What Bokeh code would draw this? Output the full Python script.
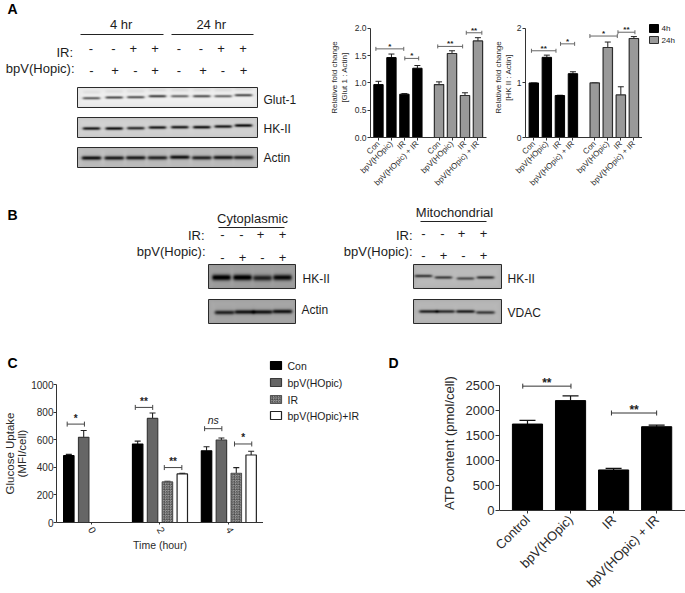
import math
import numpy as np
from bokeh.core.properties import value
from bokeh.embed import file_html
from bokeh.layouts import column, row
from bokeh.models import (ColumnDataSource, FixedTicker, Label, LinearColorMapper,
                          PrintfTickFormatter, Range1d, TeeHead, Whisker)
from bokeh.plotting import figure
from bokeh.resources import INLINE

FONT = "Liberation Sans"

# ---------- Panel A bar charts ----------
treatments = ["Con", "bpV(HOpic)", "IR", "bpV(HOpic) + IR"]
positions_a = [1, 2, 3, 4, 5.67, 6.67, 7.67, 8.67]
glut_values = [0.97, 1.465, 0.794, 1.27, 0.97, 1.54, 0.77, 1.77]
glut_upper = [1.03, 1.53, 0.805, 1.32, 1.02, 1.59, 0.82, 1.83]
glut_brackets = [(0.8, 2.95, 1.625, "*"), (3.03, 4.1, 1.45, "*"), (5.57, 7.49, 1.67, "**"), (7.77, 8.97, 1.92, "**")]
hk_values = [1.0, 1.47, 0.77, 1.17, 1.0, 1.65, 0.78, 1.815]
hk_upper = [1.0, 1.51, 0.775, 1.205, 1.0, 1.75, 0.93, 1.85]
hk_brackets = [(0.82, 2.7, 1.59, "**"), (3.05, 4.13, 1.717, "*"), (5.3, 7.4, 1.86, "*"), (7.45, 8.75, 1.93, "**")]
legend_a = ["4h", "24h"]

# ---------- Panel C ----------
positions_c = [1, 2, 5.63, 6.63, 7.63, 8.63, 10.26, 11.26, 12.26, 13.26]
groups_c = ["Con", "bpV", "Con", "bpV", "IR", "both", "Con", "bpV", "IR", "both"]
uptake_values = [484, 617, 569, 754, 294, 352, 520, 598, 357, 489]
uptake_upper = [494, 667, 590, 793, 299, 357, 549, 612, 398, 516]
uptake_ticks = [2.5, 7.13, 11.76]
uptake_tick_labels = ["0", "2", "4"]
uptake_brackets = [(0.89, 2.05, 713, "*"), (5.47, 6.64, 834, "**"), (7.42, 8.6, 398, "**"),
                   (10.13, 11.29, 680, "ns"), (12.14, 13.3, 569, "*")]

# ---------- Panel D ----------
atp_labels = ["Control", "bpV(HOpic)", "IR", "bpV(HOpic) + IR"]
atp_values = [1729, 2198, 811, 1676]
atp_upper = [1803, 2292, 844, 1709]
atp_brackets = [(0.89, 2.01, 2487, "**"), (2.95, 4.0, 1950, "**")]

# ---------- Blots: centre x, centre y, darkness per lane ----------
lanes_a = [91, 113.7, 135.3, 157, 179.3, 201.3, 222.7, 243]
glut_y = [97.7, 97, 96.7, 95.7, 95.7, 95.7, 95.7, 94.7]
glut_d = [150, 170, 160, 180, 140, 165, 140, 170]
hkii_y = [128, 128, 127.7, 127, 126.7, 126.7, 126, 125]
hkii_d = [190, 200, 170, 190, 190, 200, 190, 205]
actin_y = [157.5, 157.5, 157.3, 157.3, 156.7, 157.3, 157, 157]
actin_d = [170, 160, 160, 150, 170, 150, 160, 145]
lanes_cyt = [221, 242, 262, 282]
lanes_cyt_actin = [224, 244, 262, 282]
cyt_hk_d = [170, 170, 125, 150]
cyt_actin_d = [130, 145, 145, 145]
lanes_mito = [423, 443, 465, 485]
lanes_mito_vdac = [428, 445, 465, 485]
mito_hk_d = [130, 125, 110, 135]
vdac_d = [150, 140, 155, 125]
ir_signs = ["-", "-", "+", "+"]
bpv_signs = ["-", "+", "-", "+"]


def text(p, xs, ys, texts, size, H, color="#1c1c1c", align="left", baseline="middle", style="normal", angle=0):
    p.text(x=xs, y=[H - y for y in ys], text=texts, text_font=value(FONT), text_font_size=f"{size}px",
           text_color=color, text_align=align, text_baseline=baseline, text_font_style=style, angle=angle)


def blot(p, H, x0, x1, y0, y1, bg, lanes, ys, darks, half, sigma, halo=0.0, ghost=None):
    w, h = int(x1 - x0), int(y1 - y0)
    xx, yy = np.meshgrid(np.arange(w) + x0 + 0.5, np.arange(h) + y0 + 0.5)
    img = np.full((h, w), float(bg))
    edge = np.minimum.reduce([xx - x0, x1 - xx, yy - y0, y1 - yy])
    img -= 14 * np.exp(-edge / 3.0)
    for cx, cy, d in zip(lanes, ys, darks):
        hx = 0.5 * (np.tanh((xx - cx + half) / 1.6) - np.tanh((xx - cx - half) / 1.6))
        img -= d * hx * np.exp(-((yy - cy) ** 2) / (2 * sigma ** 2))
        if halo:
            img -= halo * hx * np.exp(-((yy - cy) ** 2) / (2 * (3.2 * sigma) ** 2))
        if ghost:
            img -= ghost * hx * np.exp(-((yy - cy + 6) ** 2) / 3.0)
    img = np.clip(img, 0, 255)[::-1]
    mapper = LinearColorMapper(palette=["#%02x%02x%02x" % (i, i, i) for i in range(256)], low=0, high=255)
    p.image(image=[img], x=x0, y=H - y1, dw=w, dh=h, color_mapper=mapper)
    p.quad(left=x0, right=x1, top=H - y0, bottom=H - y1, fill_color=None, line_color="#2a2a2a", line_width=1)


def canvas(W, H):
    p = figure(width=W, height=H, x_range=Range1d(0, W), y_range=Range1d(0, H), output_backend="svg",
               toolbar_location=None, min_border=0, outline_line_color=None, frame_align=False)
    p.axis.visible = False
    p.grid.visible = False
    return p


def chart(W, H, L, R, T, B, xr, yr):
    p = figure(width=W, height=H, x_range=Range1d(*xr), y_range=Range1d(*yr), output_backend="svg",
               toolbar_location=None, min_border_left=L, min_border_right=R, min_border_top=T, min_border_bottom=B,
               outline_line_color=None, frame_align=False)
    p.grid.visible = False
    for ax in (p.xaxis[0], p.yaxis[0]):
        ax.minor_tick_line_color = None
        ax.major_tick_in = 0
        ax.axis_line_color = "#333333"
        ax.major_tick_line_color = "#333333"
        ax.major_label_text_font = FONT
        ax.axis_label_text_font = FONT
        ax.axis_label_text_font_style = "normal"
        ax.axis_label_text_color = "#2a2a2a"
        ax.major_label_text_color = "#2a2a2a"
        ax.axis_label_text_line_height = 1.1
    return p


def whiskers(p, xs, lows, ups, cap, color="black", width=1.0):
    src = ColumnDataSource(dict(x=xs, lo=lows, up=ups))
    p.add_layout(Whisker(source=src, base="x", lower="lo", upper="up", dimension="height", line_color=color,
                         line_width=width, lower_head=None,
                         upper_head=TeeHead(size=cap, line_color=color, line_width=width)))


def brackets(p, items, cap, color, size, dy, ns_size=None):
    for x0, x1, y, lab in items:
        src = ColumnDataSource(dict(y=[y], a=[x0], b=[x1]))
        p.add_layout(Whisker(source=src, base="y", lower="a", upper="b", dimension="width", line_color=color,
                             line_width=1, lower_head=TeeHead(size=cap, line_color=color, line_width=1),
                             upper_head=TeeHead(size=cap, line_color=color, line_width=1)))
        if lab == "ns":
            p.add_layout(Label(x=(x0 + x1) / 2, y=y, text=lab, text_font=FONT, text_font_size=f"{ns_size}px",
                               text_font_style="italic", text_align="center", text_baseline="bottom", y_offset=3,
                               text_color="#222222"))
        else:
            p.add_layout(Label(x=(x0 + x1) / 2, y=y, text=lab, text_font=FONT, text_font_size=f"{size}px",
                               text_font_style="bold", text_align="center", text_baseline="middle", y_offset=dy,
                               text_color="#222222"))


# ---------- Row 1 ----------
H1 = 200
pa = canvas(325, H1)
text(pa, [7], [8], ["A"], 14, H1, style="bold", color="black")
text(pa, [120.7, 210.7], [24, 24], ["4 hr", "24 hr"], 13, H1, align="center")
pa.segment(x0=[80, 171], x1=[163, 253], y0=[H1 - 34] * 2, y1=[H1 - 34] * 2, line_color="#222222", line_width=1)
text(pa, [72.5], [51.5], ["IR:"], 13, H1, align="right")
text(pa, [74], [68], ["bpV(Hopic):"], 13, H1, align="right")
ir_x = [90.5, 113, 132.7, 154.5, 178.5, 200.5, 220.5, 242.5]
bpv_x = [91, 114.5, 135, 154.5, 178.5, 202.5, 222.5, 243]
text(pa, ir_x, [48] * 8, ir_signs * 2, 13, H1, align="center")
text(pa, bpv_x, [70] * 8, bpv_signs * 2, 13, H1, align="center")
blot(pa, H1, 77, 257, 87, 107, 240, lanes_a, glut_y, glut_d, 8.5, 0.9, 0, 14)
blot(pa, H1, 77, 257, 117, 137, 212, lanes_a, hkii_y, hkii_d, 8.5, 1.0, 5)
blot(pa, H1, 77, 257, 147, 167, 196, lanes_a, actin_y, actin_d, 9.5, 1.3, 16)
text(pa, [263, 263, 263], [99, 128, 157.5], ["Glut-1", "HK-II", "Actin"], 12, H1)


def panel_a_chart(W, L, R, xr, vals, ups, brs, yticks, ylabel, fmt, title_gap):
    p = chart(W, H1, L, R, 17, 63, xr, (0, 2.2))
    p.vbar(x=positions_a[:4], top=vals[:4], width=0.72, bottom=0, fill_color="black", line_color="black", line_width=1)
    p.vbar(x=positions_a[4:], top=vals[4:], width=0.72, bottom=0, fill_color="#999999", line_color="#2e2e2e", line_width=1.2)
    whiskers(p, positions_a, vals, ups, 6, "#222222")
    brackets(p, brs, 4, "#666666", 8, 2.5)
    p.xaxis[0].ticker = FixedTicker(ticks=positions_a)
    p.xaxis[0].major_label_overrides = {x: t for x, t in zip(positions_a, treatments * 2)}
    p.xaxis[0].major_label_orientation = math.pi / 4
    p.xaxis[0].major_label_text_font_size = "8px"
    p.xaxis[0].major_tick_out = 3
    p.xaxis[0].major_label_standoff = 2
    p.yaxis[0].ticker = FixedTicker(ticks=yticks)
    p.yaxis[0].bounds = (0, 2)
    if fmt:
        p.yaxis[0].formatter = PrintfTickFormatter(format=fmt)
    p.yaxis[0].major_label_text_font_size = "8.5px"
    p.yaxis[0].major_tick_out = 3
    p.yaxis[0].major_label_standoff = 1
    p.yaxis[0].axis_label = ylabel
    p.yaxis[0].axis_label_text_font_size = "8px"
    p.yaxis[0].axis_label_standoff = title_gap
    return p


p1 = panel_a_chart(165, 45, 4, (0.385, 9.33), glut_values, glut_upper, glut_brackets,
                   [0, 0.5, 1.0, 1.5, 2.0], "Relative fold change\n[Glut 1 : Actin]", "%.1f", 3)
p2 = panel_a_chart(152, 35, 0, (0.365, 9.33), hk_values, hk_upper, hk_brackets,
                   [0, 1, 2], "Relative fold change\n[HK II : Actin]", None, 1)
# key of panel A: page x 642..685
pk = canvas(43, H1)
pk.quad(left=[7, 7], right=[16, 16], top=[H1 - 24, H1 - 36], bottom=[H1 - 32, H1 - 43],
        fill_color=["black", "#999999"], line_color=["black", "#2e2e2e"], line_width=1)
text(pk, [19, 19], [28, 39.5], legend_a, 8, H1)

# ---------- Row 2 ----------
H2 = 140
OFF = 200
pb = canvas(685, H2)
def yb(v):
    return [H2 - (y - OFF) for y in v]
def tb(xs, ys, labels, size, **kw):
    text(pb, xs, [y - OFF for y in ys], labels, size, H2, **kw)
tb([7], [214], ["B"], 14, style="bold", color="black")
tb([252, 454], [218, 212], ["Cytoplasmic", "Mitochondrial"], 13, align="center")
pb.segment(x0=[218, 420], x1=[284, 486], y0=yb([227, 221]), y1=yb([227, 221]), line_color="#222222", line_width=1)
tb([204, 412], [235, 235], ["IR:", "IR:"], 13, align="right")
tb([205, 412], [251, 251], ["bpV(Hopic):", "bpV(Hopic):"], 13, align="right")
tb([222, 241, 260, 282], [234] * 4, ir_signs, 13, align="center")
tb([222, 242, 262, 282], [257] * 4, bpv_signs, 13, align="center")
tb([423, 442, 461, 483], [233] * 4, ir_signs, 13, align="center")
tb([423, 443, 463, 483], [255] * 4, bpv_signs, 13, align="center")
def shift(v):
    return [y - OFF for y in v]
blot(pb, H2, 208, 295, 264 - OFF, 288 - OFF, 165, lanes_cyt, shift([277, 277, 277.5, 277]), cyt_hk_d, 9, 2.0, 10)
blot(pb, H2, 208, 295, 299 - OFF, 323 - OFF, 172, lanes_cyt_actin, shift([312, 311.5, 311.5, 311]), cyt_actin_d, 9.5, 1.4, 12)
blot(pb, H2, 413, 501, 264 - OFF, 288 - OFF, 188, lanes_mito, shift([275.5, 277, 278, 277]), mito_hk_d, 8.5, 1.0, 5)
blot(pb, H2, 413, 501, 299 - OFF, 323 - OFF, 186, lanes_mito_vdac, shift([311, 311, 311, 312]), vdac_d, 9, 1.1, 6)
tb([302, 301, 507, 507], [278, 309, 278, 312], ["HK-II", "Actin", "HK-II", "VDAC"], 12)

# ---------- Row 3 ----------
H3 = 260
HEAD = 30
ph = canvas(263, HEAD)
text(ph, [7], [22], ["C"], 14, HEAD, style="bold", color="black")
pc = chart(263, H3 - HEAD, 56, 0, 14, 78, (0.172, 14.09), (0, 1000))
fills = {"Con": "black", "bpV": "#666666", "IR": "#aaaaaa", "both": "white"}
lines = {"Con": "black", "bpV": "#3a3a3a", "IR": "#555555", "both": "#222222"}
names = {"Con": "Con", "bpV": "bpV(HOpic)", "IR": "IR", "both": "bpV(HOpic)+IR"}
order = ["Con", "bpV", "IR", "both"]
hatch = dict(hatch_pattern="criss_cross", hatch_color="#444444", hatch_scale=2.5, hatch_weight=0.6)
for g in order:
    idx = [i for i, k in enumerate(groups_c) if k == g]
    pc.vbar(x=[positions_c[i] for i in idx], top=[uptake_values[i] for i in idx], width=0.7, bottom=0,
            fill_color=fills[g], line_color=lines[g], line_width=1.2, **(hatch if g == "IR" else {}))
whiskers(pc, positions_c, uptake_values, uptake_upper, 6, "#222222", 1.1)
brackets(pc, uptake_brackets, 5, "#444444", 10, 6, 10.5)
pc.xaxis[0].ticker = FixedTicker(ticks=uptake_ticks)
pc.xaxis[0].major_label_overrides = dict(zip(uptake_ticks, uptake_tick_labels))
pc.xaxis[0].major_label_orientation = -math.pi / 3
pc.xaxis[0].major_label_text_font_size = "10px"
pc.xaxis[0].major_tick_out = 2
pc.xaxis[0].major_label_standoff = 3
pc.xaxis[0].axis_label = "Time (hour)"
pc.xaxis[0].axis_label_text_font_size = "10.5px"
pc.xaxis[0].axis_label_standoff = 0
pc.yaxis[0].ticker = FixedTicker(ticks=[0, 200, 400, 600, 800, 1000])
pc.yaxis[0].major_label_text_font_size = "10px"
pc.yaxis[0].major_tick_out = 3
pc.yaxis[0].major_label_standoff = 0
pc.yaxis[0].axis_label = "Glucose Uptake\n(MFI/cell)"
pc.yaxis[0].axis_label_text_font_size = "11.5px"
pc.yaxis[0].axis_label_standoff = 0
pc.yaxis[0].axis_label_text_line_height = 1.0
# key of panel C: page x 263..400, y from 340
pl = canvas(137, H3)
key_y = [21, 38, 55, 71]
for yy, g in zip(key_y, order):
    pl.quad(left=[7], right=[18], top=[H3 - yy], bottom=[H3 - yy - 8], fill_color=fills[g], line_color=lines[g],
            line_width=1.2, **(hatch if g == "IR" else {}))
text(pl, [24] * 4, [y + 4 for y in key_y], [names[g] for g in order], 10.5, H3)
text(pl, [125], [22], ["D"], 14, H3, style="bold", color="black")

atp_x = [1, 2, 3, 4]
pd_ = chart(285, H3, 99, 0, 35, 90, (0.35, 4.67), (0, 2700))
pd_.vbar(x=atp_x, top=atp_values, width=0.7, bottom=0, fill_color="black", line_color="black", line_width=1)
whiskers(pd_, atp_x, atp_values, atp_upper, 16, "#111111", 1.2)
brackets(pd_, atp_brackets, 5, "#333333", 12, 3)
pd_.xaxis[0].ticker = FixedTicker(ticks=atp_x)
pd_.xaxis[0].major_label_overrides = dict(zip(atp_x, atp_labels))
pd_.xaxis[0].major_label_orientation = math.pi / 4
pd_.xaxis[0].major_label_text_font_size = "13px"
pd_.xaxis[0].major_tick_out = 3
pd_.xaxis[0].major_label_standoff = 4
pd_.yaxis[0].ticker = FixedTicker(ticks=[0, 500, 1000, 1500, 2000, 2500])
pd_.yaxis[0].bounds = (0, 2500)
pd_.yaxis[0].major_label_text_font_size = "13px"
pd_.yaxis[0].major_tick_out = 4
pd_.yaxis[0].major_label_standoff = 1
pd_.yaxis[0].axis_label = "ATP content (pmol/cell)"
pd_.yaxis[0].axis_label_text_font_size = "13px"
pd_.yaxis[0].axis_label_standoff = 6

root = column(row(pa, p1, p2, pk, spacing=0), pb,
              row(column(ph, pc, spacing=0), pl, pd_, spacing=0), spacing=0, margin=(0, 0, -7, 0))
open("out.html", "w").write(file_html(root, INLINE))
